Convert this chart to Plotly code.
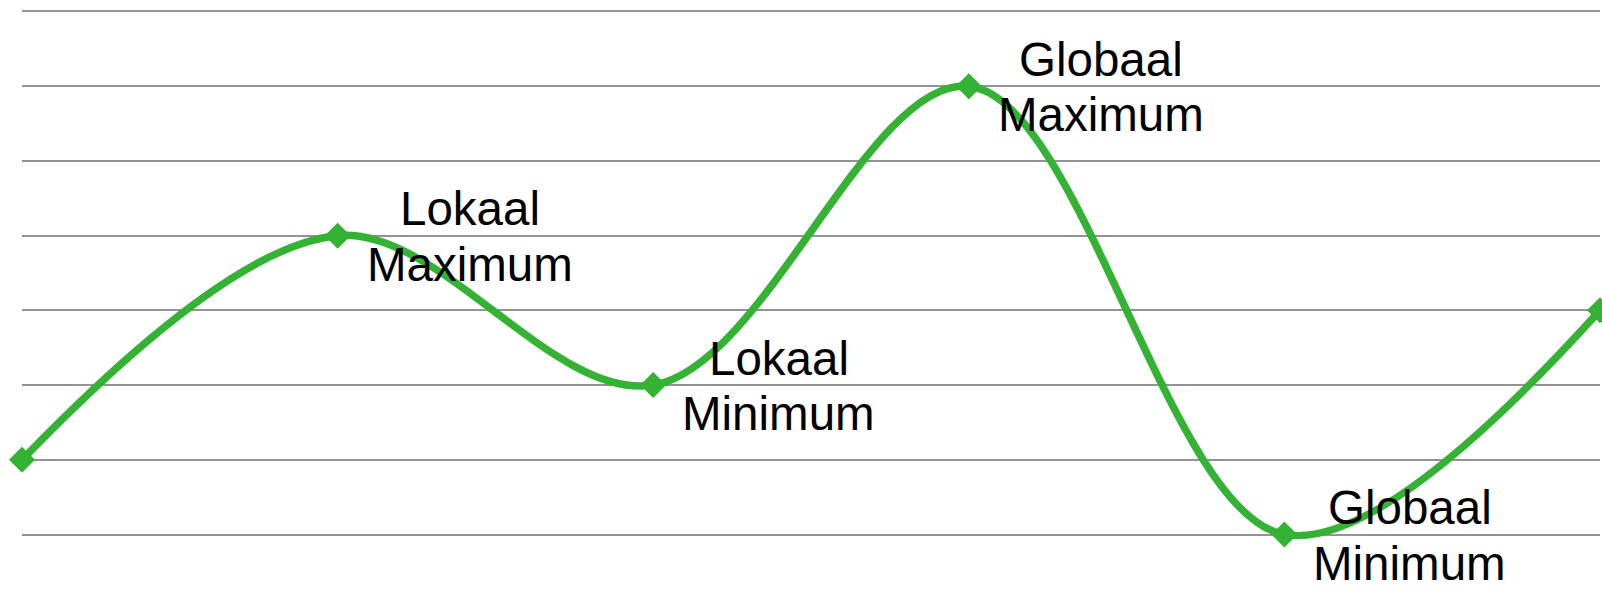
import plotly.graph_objects as go

# Data
positions = [0, 1, 2, 3, 4, 5]
values = [1, 4, 2, 6, 0, 3]
label_line1 = ["", "Lokaal", "Lokaal", "Globaal", "Globaal", ""]
label_line2 = ["", "Maximum", "Minimum", "Maximum", "Minimum", ""]

GREEN = "#33b233"
FONT_SIZE = 47.5
FONT = dict(family="Liberation Sans, Arial", size=FONT_SIZE, color="black")

# Arial / Liberation Sans advance widths (per 1000 em) used to centre the two
# label lines over each other, like a centred two-line data label.
ADV = {"L": 556, "o": 556, "k": 500, "a": 556, "l": 222, "G": 778, "b": 556,
       "M": 833, "x": 500, "i": 222, "m": 833, "u": 556, "n": 556}


def text_width(s):
    return sum(ADV.get(c, 556) for c in s) * FONT_SIZE / 1000.0


fig = go.Figure()
fig.add_trace(go.Scatter(
    x=positions, y=values,
    mode="lines+markers",
    line=dict(color=GREEN, width=7.5, shape="spline", smoothing=1),
    marker=dict(symbol="diamond", size=20, color=GREEN),
    cliponaxis=False,
    hoverinfo="skip",
))

for x, y, t1, t2 in zip(positions, values, label_line1, label_line2):
    if not t1:
        continue
    block_w = max(text_width(t1), text_width(t2))
    cx = 29 + block_w / 2.0
    fig.add_annotation(x=x, y=y, text=t1, showarrow=False, xanchor="center",
                       yanchor="middle", xshift=cx, yshift=27, font=FONT)
    fig.add_annotation(x=x, y=y, text=t2, showarrow=False, xanchor="center",
                       yanchor="middle", xshift=cx, yshift=-28.5, font=FONT)

fig.update_layout(
    width=1602, height=609,
    margin=dict(l=22, r=2, t=3.5, b=66.5),
    plot_bgcolor="white", paper_bgcolor="white",
    showlegend=False,
    xaxis=dict(range=[0, 5], showgrid=False, zeroline=False, showticklabels=False,
               showline=False, ticks=""),
    yaxis=dict(range=[-0.1, 7.1], tick0=0, dtick=1, showgrid=True, gridcolor="#939393", gridwidth=1.5,
               zeroline=True, zerolinecolor="#939393", zerolinewidth=1.5,
               showticklabels=False, showline=False, ticks=""),
)

fig.write_html("out.html")
